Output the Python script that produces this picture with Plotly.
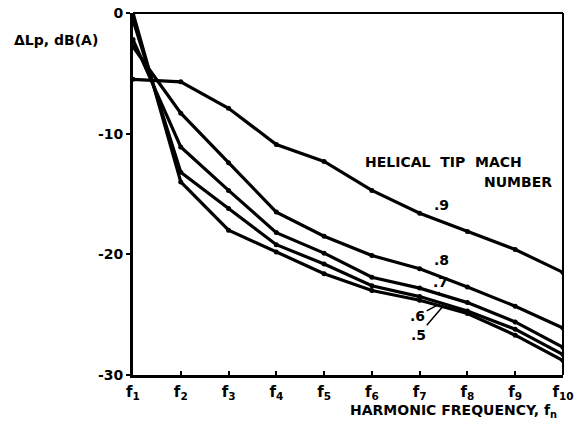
import plotly.graph_objects as go

# Harmonic index and tick labels
harmonics = [1, 2, 3, 4, 5, 6, 7, 8, 9, 10]
harmonic_labels = [f"f<sub>{n}</sub>" for n in harmonics]

# Relative sound pressure level (dB(A)) per helical tip Mach number
mach_09 = [-5.5, -5.7, -7.9, -10.9, -12.3, -14.7, -16.6, -18.1, -19.6, -21.5]
mach_08 = [-2.8, -8.3, -12.4, -16.5, -18.5, -20.1, -21.2, -22.7, -24.3, -26.1]
mach_07 = [-2.2, -11.1, -14.7, -18.2, -19.9, -21.9, -22.8, -24.0, -25.6, -27.7]
mach_06 = [-0.6, -13.2, -16.2, -19.2, -20.8, -22.6, -23.5, -24.7, -26.2, -28.3]
mach_05 = [0.0, -14.0, -18.0, -19.8, -21.6, -23.0, -23.8, -24.9, -26.7, -28.8]

y_ticks = [0, -10, -20, -30]

series = [(".9", mach_09), (".8", mach_08), (".7", mach_07), (".6", mach_06), (".5", mach_05)]

FONT = "DejaVu Sans, Liberation Sans, sans-serif"
INK = "#000000"
NB = "\u00a0"

fig = go.Figure()
for name, vals in series:
    fig.add_trace(go.Scatter(
        x=harmonics, y=vals, name=name, mode="lines+markers",
        line=dict(color=INK, width=3.2),
        marker=dict(color=INK, size=5),
        showlegend=False,
    ))

annos = []
# Curve labels
annos.append(dict(x=7.45, y=mach_09[6] - 0.1, text=".9", showarrow=False,
                  xanchor="center", yanchor="bottom", font=dict(size=14)))
annos.append(dict(x=7.45, y=mach_08[6] - 0.1, text=".8", showarrow=False,
                  xanchor="center", yanchor="bottom", font=dict(size=14)))
annos.append(dict(x=7.4, y=(mach_07[6] + mach_07[7]) / 2, ax=2, ay=-13, text=".7",
                  showarrow=True, arrowhead=0, arrowwidth=1.5, arrowcolor=INK,
                  xanchor="center", font=dict(size=14)))
annos.append(dict(x=7.42, y=(mach_06[6] + mach_06[7]) / 2, ax=-22, ay=12, text=".6",
                  showarrow=True, arrowhead=0, arrowwidth=1.5, arrowcolor=INK,
                  font=dict(size=14)))
annos.append(dict(x=7.48, y=(mach_05[6] + mach_05[7]) / 2, ax=-24, ay=28, text=".5",
                  showarrow=True, arrowhead=0, arrowwidth=1.5, arrowcolor=INK,
                  font=dict(size=14)))

# Key title
annos.append(dict(x=0.723, y=0.588, xref="paper", yref="paper",
                  text=f"HELICAL{NB}{NB}TIP{NB}{NB}MACH",
                  showarrow=False, xanchor="center", yanchor="middle", font=dict(size=14)))
annos.append(dict(x=0.98, y=0.533, xref="paper", yref="paper", text="NUMBER",
                  showarrow=False, xanchor="right", yanchor="middle", font=dict(size=14)))

# Axis titles
annos.append(dict(x=-0.282, y=0.925, xref="paper", yref="paper", text="ΔLp, dB(A)",
                  showarrow=False, xanchor="left", yanchor="middle", font=dict(size=14)))
annos.append(dict(x=0.99, y=-0.1, xref="paper", yref="paper",
                  text="HARMONIC FREQUENCY, f<sub>n</sub>",
                  showarrow=False, xanchor="right", yanchor="middle", font=dict(size=14)))

fig.update_layout(
    width=578, height=424,
    margin=dict(l=133, r=15, t=13, b=49, autoexpand=False),
    paper_bgcolor="white", plot_bgcolor="white",
    font=dict(family=FONT, color=INK, size=14, weight="bold"),
    annotations=annos,
    shapes=[
        dict(type="line", xref="paper", yref="paper", x0=0, x1=1, y0=1, y1=1,
             line=dict(color=INK, width=2)),
        dict(type="line", xref="paper", yref="paper", x0=1, x1=1, y0=0, y1=1,
             line=dict(color=INK, width=2)),
    ],
    xaxis=dict(
        range=[1, 10], tickvals=harmonics, ticktext=harmonic_labels, automargin=False,
        showgrid=False, zeroline=False, showline=True, linecolor=INK, linewidth=3,
        ticks="inside", ticklen=4, tickwidth=2, tickcolor=INK,
        tickfont=dict(size=15, weight="bold"), ticklabelstandoff=1,
    ),
    yaxis=dict(
        range=[-30, 0], tickvals=y_ticks, ticktext=[str(v) for v in y_ticks], automargin=False,
        showgrid=False, zeroline=False, showline=True, linecolor=INK, linewidth=3,
        ticks="outside", ticklen=4, tickwidth=2, tickcolor=INK,
        tickfont=dict(size=14, weight="bold"),
    ),
)

fig.write_html("out.html")
